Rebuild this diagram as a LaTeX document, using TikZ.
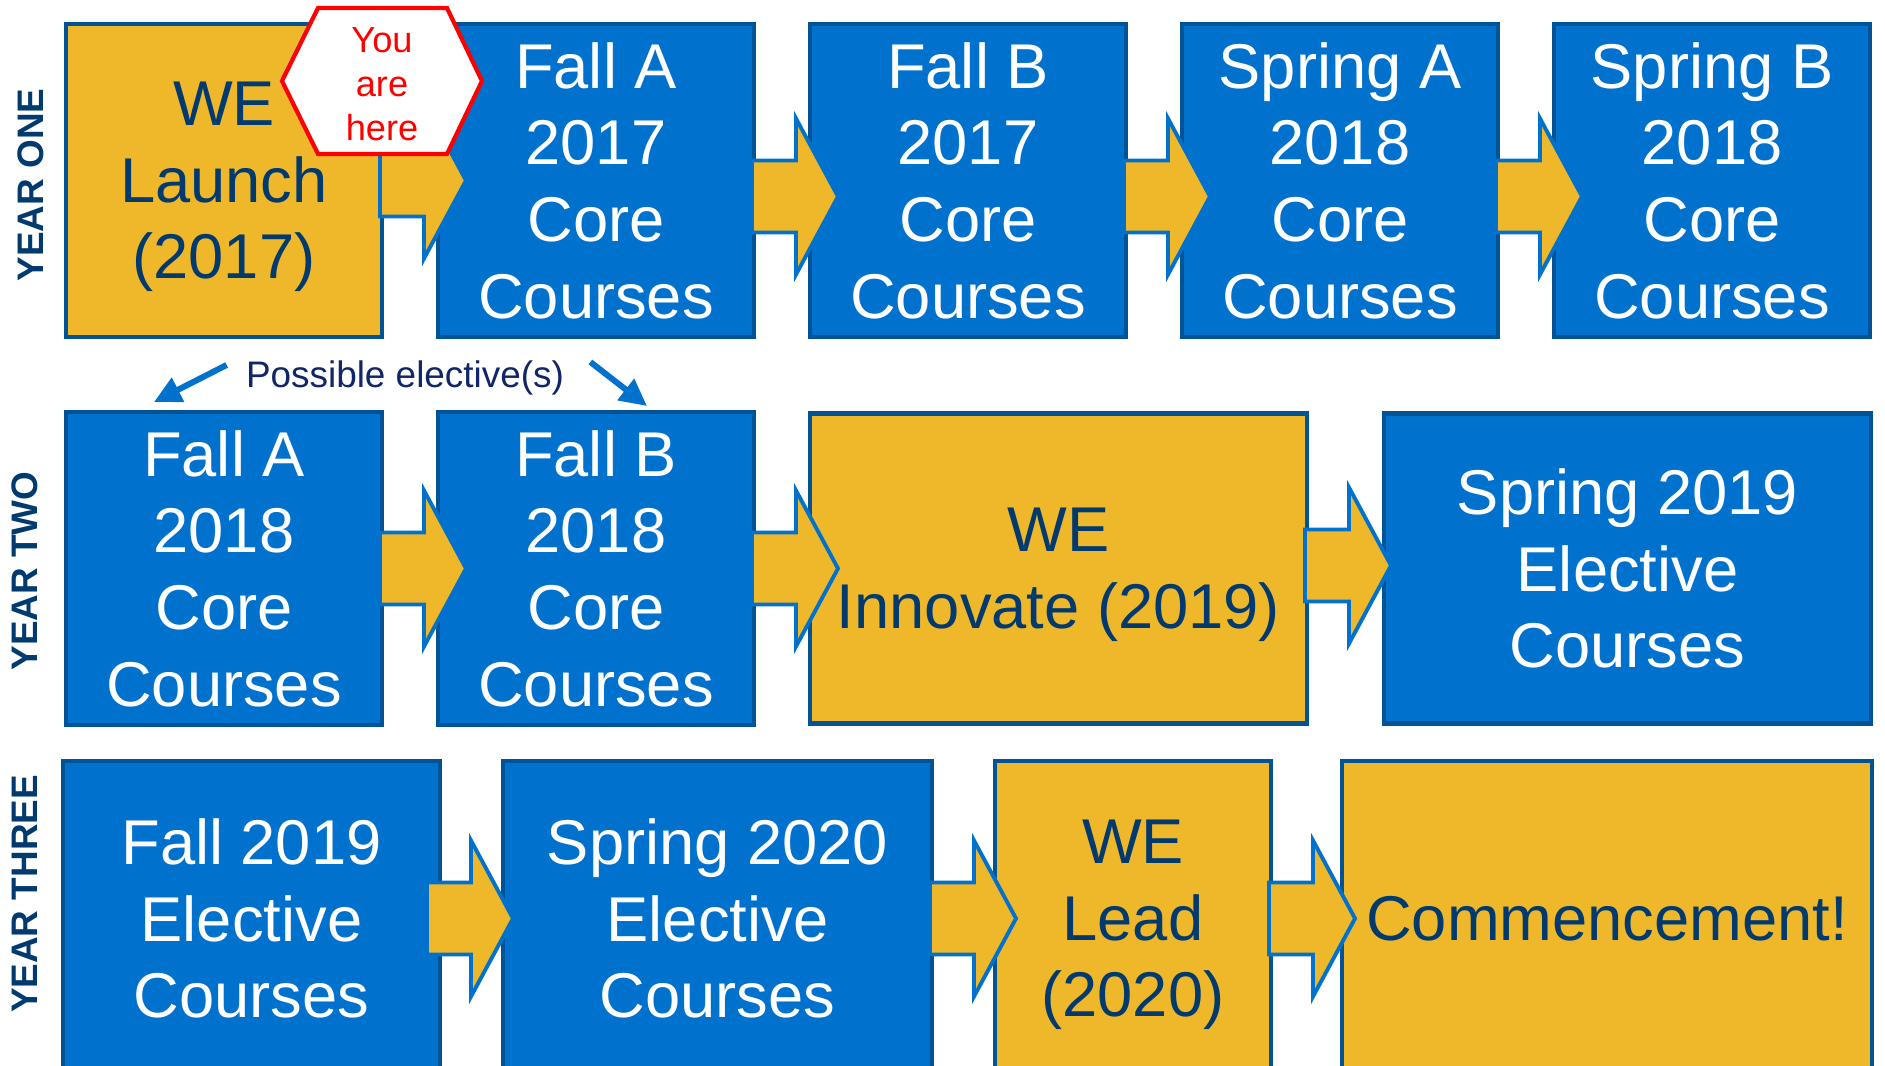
\documentclass[tikz,border=0pt]{standalone}
\usepackage{fontspec}
\setmainfont{Liberation Sans}
\usetikzlibrary{positioning,calc,arrows.meta}

\definecolor{boxblue}{RGB}{0,114,206}
\definecolor{boxline}{RGB}{0,84,150}
\definecolor{weyellow}{RGB}{238,184,42}
\definecolor{wenavy}{RGB}{0,58,110}
\definecolor{notenavy}{RGB}{16,38,104}

% block arrow from one box into the next, optional (x,y) shift
\newcommand{\fatarrow}[3][0,0]{%
  \draw[bigarrow] let \p1=($(#2.east)+(-0.02,0)+(#1)$),
    \p2=($(#2.east)!0.84cm!(#2.east -| #3.west)+(#1)$) in
    (\x1,\y1+0.36cm) -- (\x2-0.42cm,\y1+0.36cm) -- (\x2-0.42cm,\y1+0.78cm)
    -- (\x2,\y1) -- (\x2-0.42cm,\y1-0.78cm) -- (\x2-0.42cm,\y1-0.36cm)
    -- (\x1,\y1-0.36cm) -- cycle;}

\begin{document}
\begin{tikzpicture}[
  box/.style={rectangle, draw=boxline, line width=1.2pt, outer sep=0pt, align=center,
    minimum width=3.16cm, minimum height=3.13cm, font=\fontsize{18}{21.8}\selectfont},
  core/.style={box, fill=boxblue, text=white},
  we/.style={box, fill=weyellow, text=wenavy, text depth=0pt},
  yearlabel/.style={rotate=90, text=wenavy, font=\fontsize{10.5}{12}\selectfont\bfseries},
  bigarrow/.style={fill=weyellow, draw=boxblue, line width=1.1pt, line join=miter},
  elecarrow/.style={-{Triangle[length=0.27cm,width=0.26cm]}, draw=boxblue, line width=1.7pt},
  herehex/.style={fill=white, draw=red, line width=1.2pt, line join=miter},
  node distance=0.56cm
]
\useasboundingbox (0,0) rectangle (18.85,-10.66);

% year one
\node[we] (launch) at (2.24,-1.805) {WE\\Launch\\(2017)};
\node[core, right=of launch] (fallAa) {Fall A\\2017\\Core\\Courses};
\node[core, right=of fallAa] (fallBa) {Fall B\\2017\\Core\\Courses};
\node[core, right=of fallBa] (springAa) {Spring A\\2018\\Core\\Courses};
\node[core, right=of springAa] (springBa) {Spring B\\2018\\Core\\Courses};

% year two
\node[core, below=0.75cm of launch] (fallAb) {Fall A\\2018\\Core\\Courses};
\node[core, right=of fallAb] (fallBb) {Fall B\\2018\\Core\\Courses};
\node[we, right=of fallBb, minimum width=4.97cm, minimum height=3.1cm] (innovate) {WE\\Innovate (2019)};
\node[core, right=0.77cm of innovate, minimum width=4.87cm, minimum height=3.1cm] (springC) {Spring 2019\\Elective\\Courses};

% year three
\node[core, below=0.36cm of fallAb.south west, anchor=north west, xshift=-0.03cm,
  minimum width=3.77cm, minimum height=3.15cm] (fallD) {Fall 2019\\Elective\\Courses};
\node[core, right=0.63cm of fallD, minimum width=4.29cm, minimum height=3.15cm] (springD) {Spring 2020\\Elective\\Courses};
\node[we, right=0.63cm of springD, minimum width=2.76cm, minimum height=3.15cm] (lead) {WE\\Lead\\(2020)};
\node[we, right=0.71cm of lead, minimum width=5.30cm, minimum height=3.15cm] (commence) {Commencement!};

\node[yearlabel] (yone) at (0.31,-1.85) {YEAR ONE};
\node[yearlabel] (ytwo) at (0.25,-5.71) {YEAR TWO};
\node[yearlabel] (ythree) at (0.25,-8.94) {YEAR THREE};

\fatarrow{launch}{fallAa}
\fatarrow[0,-0.16]{fallAa}{fallBa}
\fatarrow[0,-0.16]{fallBa}{springAa}
\fatarrow[0,-0.16]{springAa}{springBa}
\fatarrow{fallAb}{fallBb}
\fatarrow{fallBb}{innovate}
\fatarrow[0,0.03]{innovate}{springC}
\fatarrow[-0.11,0]{fallD}{springD}
\fatarrow{springD}{lead}
\fatarrow{lead}{commence}

% you are here
\coordinate (hexc) at ([yshift=-0.57cm]launch.north east);
\draw[herehex] ([xshift=-1cm]hexc) -- ++(0.36,0.73) -- ++(1.29,0) -- ++(0.35,-0.73)
  -- ++(-0.35,-0.73) -- ++(-1.29,0) -- cycle;
\node[text=red, align=center, font=\fontsize{10.3}{12.5}\selectfont] (here) at ([yshift=-0.03cm]hexc) {You\\are\\here};

\node[text=notenavy, font=\fontsize{10.5}{12}\selectfont] (elect) at (4.05,-3.78) {Possible elective(s)};
\draw[elecarrow] ([xshift=-0.07cm,yshift=0.13cm]elect.west) -- ([xshift=-0.7cm,yshift=0.1cm]fallAb.north);
\draw[elecarrow] ([xshift=0.14cm,yshift=0.16cm]elect.east) -- ([xshift=0.51cm,yshift=0.06cm]fallBb.north);
\end{tikzpicture}
\end{document}
